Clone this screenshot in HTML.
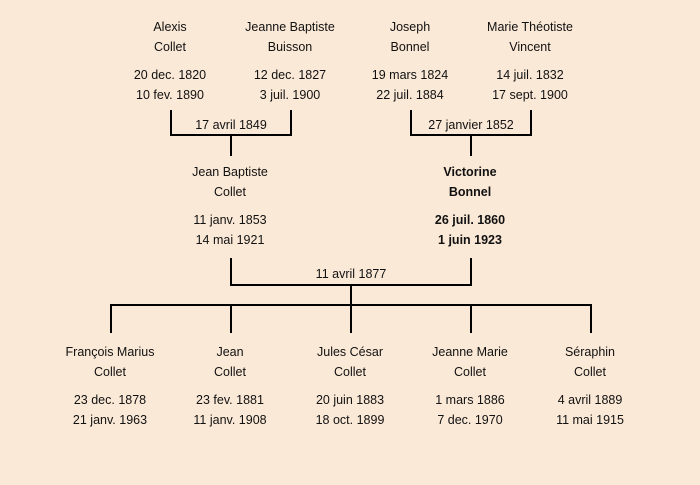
<!DOCTYPE html>
<html><head><meta charset="utf-8"><style>
html,body{margin:0;padding:0;background:#fbe9d7;}
svg{display:block}
text{font-family:"Liberation Sans",sans-serif;font-size:12.5px;fill:#111;text-anchor:middle;dominant-baseline:central}
.b{font-weight:bold}
</style></head><body>
<svg width="700" height="485" viewBox="0 0 700 485">
<rect width="700" height="485" fill="#fbe9d7"/>
<g stroke="#000" stroke-width="2" fill="none">
<path d="M171 110V135H291V110M231 135V156"/>
<path d="M411 110V135H531V110M471 135V156"/>
<path d="M231 258V285H471V258M351 285V305"/>
<path d="M111 333V305H591V333M231 305V333M351 305V333M471 305V333"/>
</g>
<text x="170" y="27">Alexis</text><text x="170" y="47">Collet</text>
<text x="170" y="75">20 dec. 1820</text><text x="170" y="95">10 fev. 1890</text>
<text x="290" y="27">Jeanne Baptiste</text><text x="290" y="47">Buisson</text>
<text x="290" y="75">12 dec. 1827</text><text x="290" y="95">3 juil. 1900</text>
<text x="410" y="27">Joseph</text><text x="410" y="47">Bonnel</text>
<text x="410" y="75">19 mars 1824</text><text x="410" y="95">22 juil. 1884</text>
<text x="530" y="27">Marie Théotiste</text><text x="530" y="47">Vincent</text>
<text x="530" y="75">14 juil. 1832</text><text x="530" y="95">17 sept. 1900</text>
<text x="231" y="125">17 avril 1849</text>
<text x="471" y="125">27 janvier 1852</text>
<text x="230" y="172">Jean Baptiste</text><text x="230" y="192">Collet</text>
<text x="230" y="220">11 janv. 1853</text><text x="230" y="240">14 mai 1921</text>
<text class="b" x="470" y="172">Victorine</text><text class="b" x="470" y="192">Bonnel</text>
<text class="b" x="470" y="220">26 juil. 1860</text><text class="b" x="470" y="240">1 juin 1923</text>
<text x="351" y="274">11 avril 1877</text>
<text x="110" y="352">François Marius</text><text x="110" y="372">Collet</text>
<text x="110" y="400">23 dec. 1878</text><text x="110" y="420">21 janv. 1963</text>
<text x="230" y="352">Jean</text><text x="230" y="372">Collet</text>
<text x="230" y="400">23 fev. 1881</text><text x="230" y="420">11 janv. 1908</text>
<text x="350" y="352">Jules César</text><text x="350" y="372">Collet</text>
<text x="350" y="400">20 juin 1883</text><text x="350" y="420">18 oct. 1899</text>
<text x="470" y="352">Jeanne Marie</text><text x="470" y="372">Collet</text>
<text x="470" y="400">1 mars 1886</text><text x="470" y="420">7 dec. 1970</text>
<text x="590" y="352">Séraphin</text><text x="590" y="372">Collet</text>
<text x="590" y="400">4 avril 1889</text><text x="590" y="420">11 mai 1915</text>
</svg>
</body></html>
